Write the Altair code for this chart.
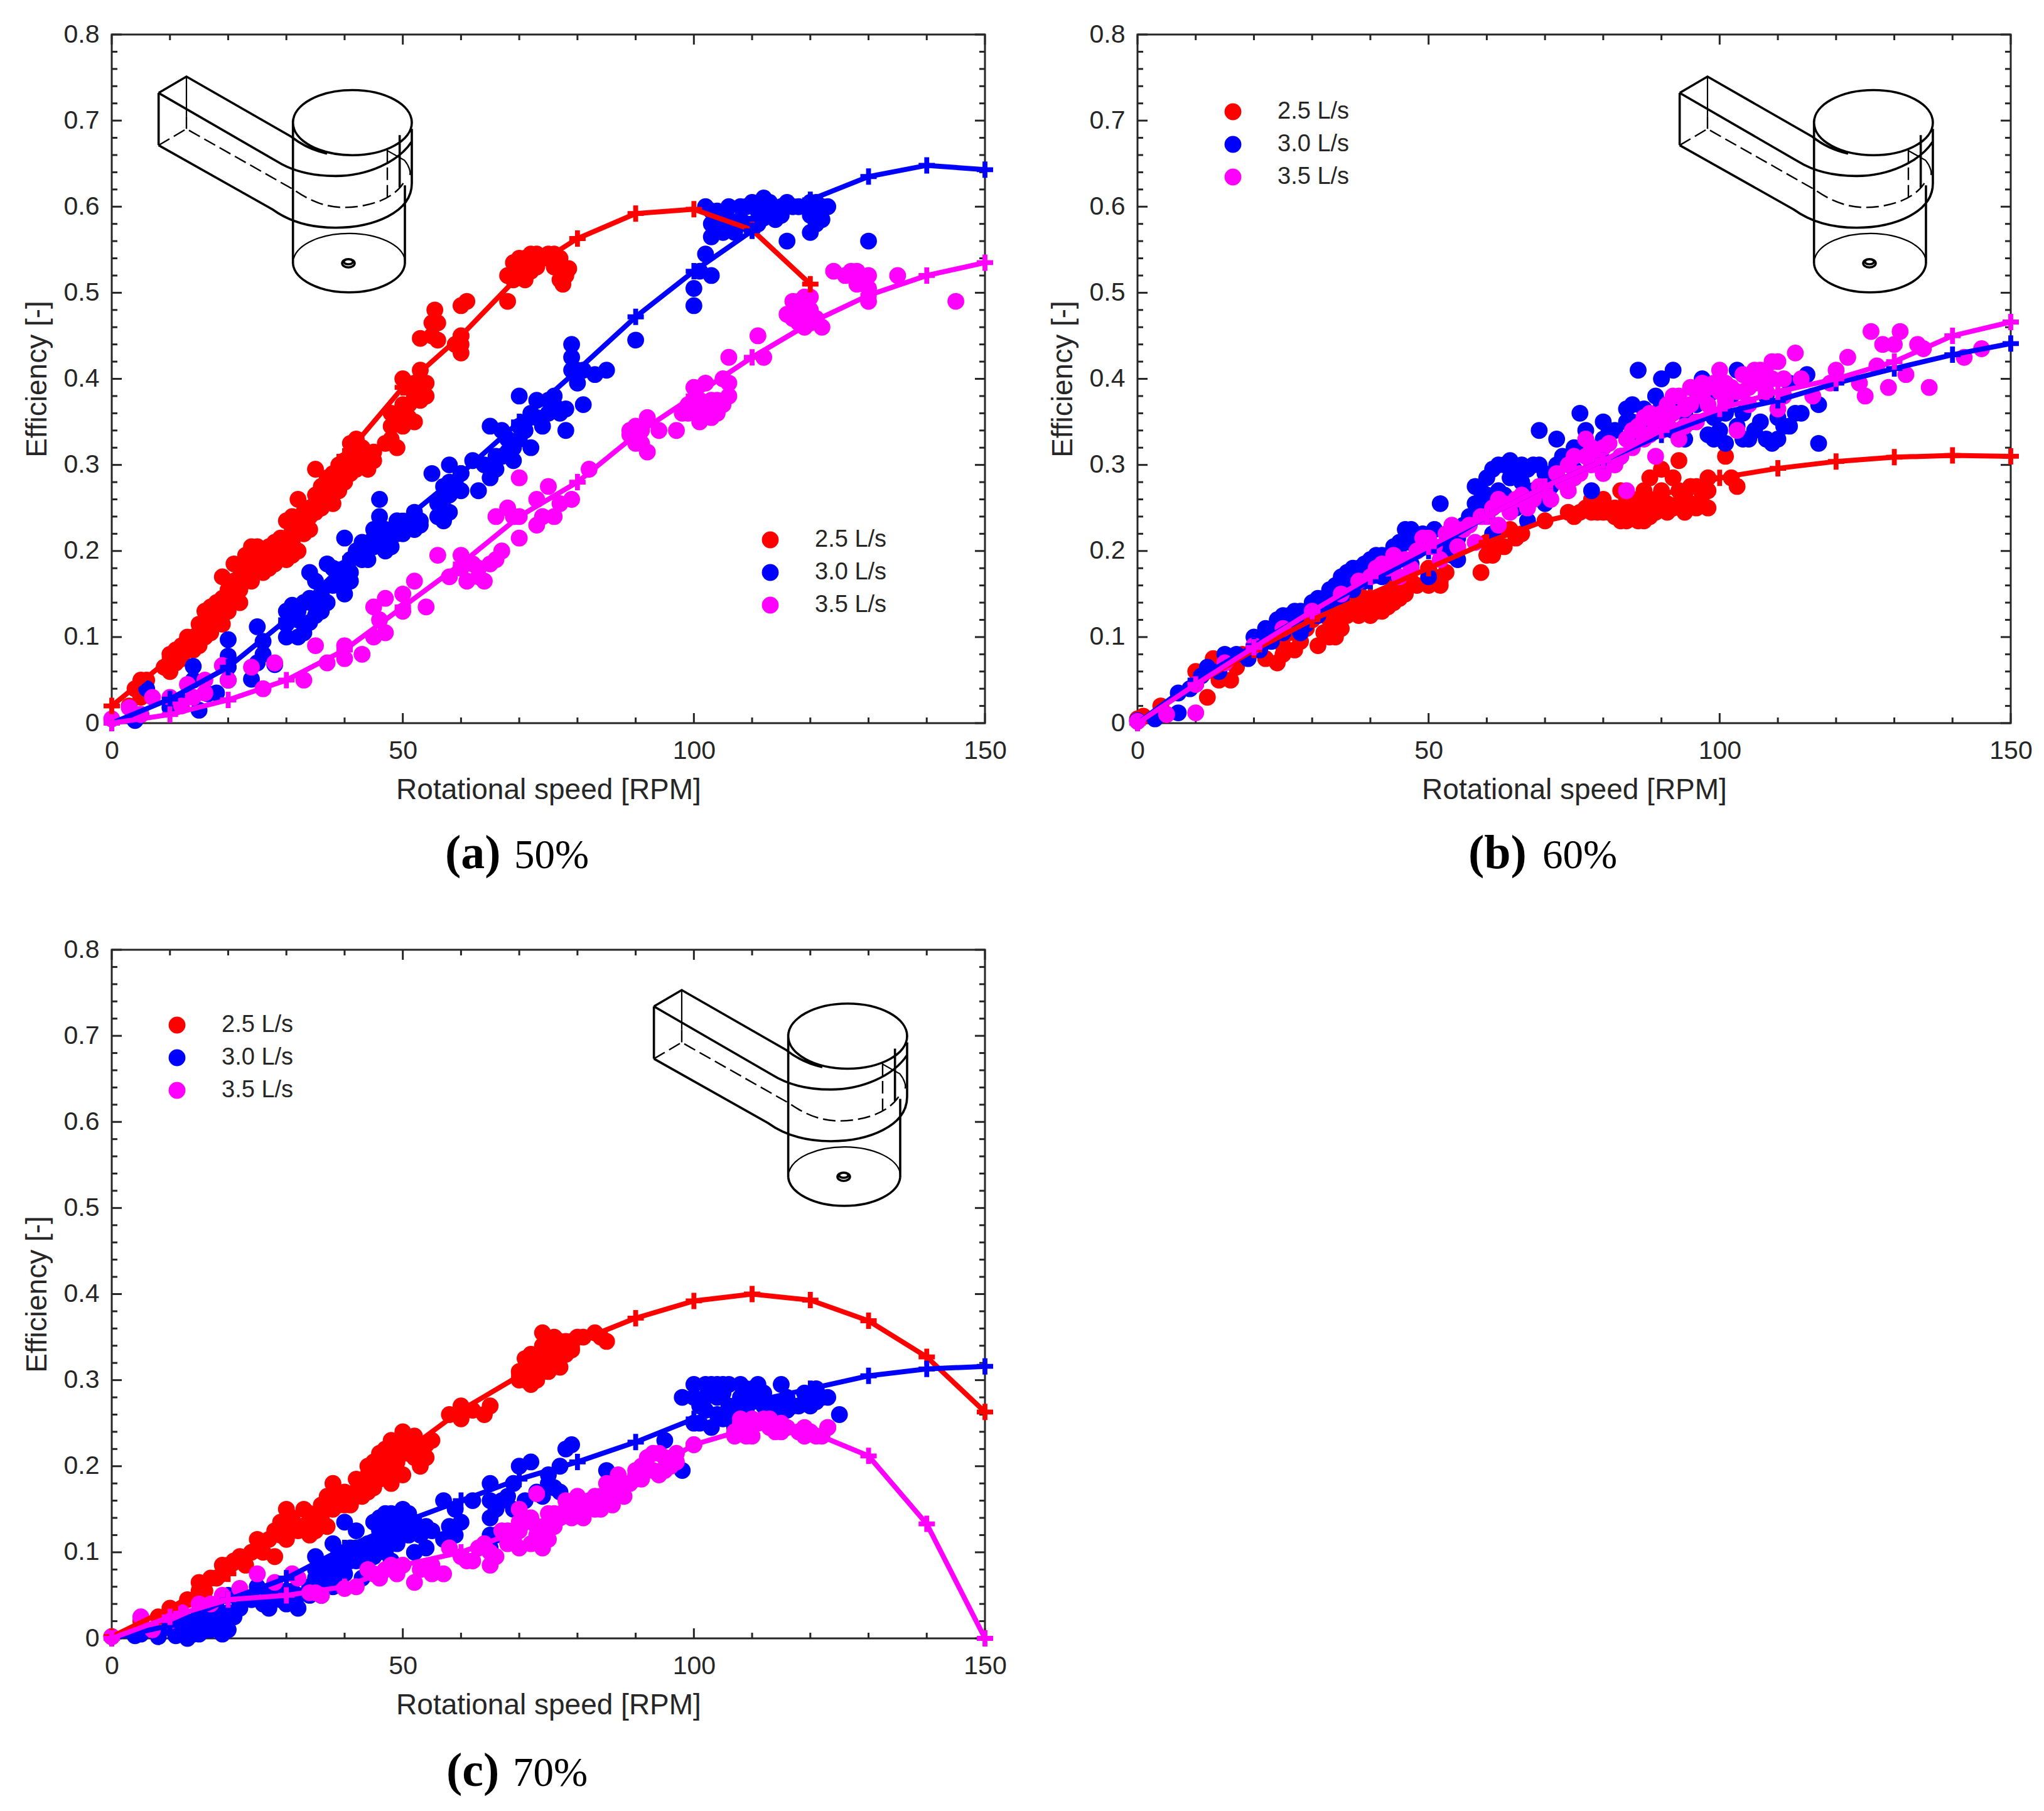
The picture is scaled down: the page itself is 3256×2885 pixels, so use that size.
import altair as alt
import pandas as pd

FLOWS = ["2.5 L/s", "3.0 L/s", "3.5 L/s"]
COLORS = ["#ff0000", "#0000ff", "#ff00ff"]
INK = "#262626"
W, H = 1391, 1097

line_x = [0, 10, 20, 30, 40, 50, 60, 70, 80, 90, 100, 110, 120, 130, 140, 150]

a_line_red = [.02, .075, .155, .22, .31, .39, .45, .52, .563, .592, .597, .573, .51]
a_line_blue = [0, .028, .065, .12, .185, .235, .29, .35, .41, .472, .525, .572, .608, .635, .648, .643]
a_line_mag = [0, .01, .027, .05, .085, .135, .185, .24, .28, .335, .38, .425, .465, .497, .52, .535]
b_line_red = [0, .045, .085, .12, .15, .18, .21, .235, .25, .265, .285, .296, .304, .309, .311, .31]
b_line_blue = [0, .05, .09, .13, .165, .2, .24, .275, .305, .335, .36, .375, .395, .412, .428, .441]
b_line_mag = [0, .045, .088, .13, .17, .205, .24, .275, .305, .34, .365, .385, .4, .42, .45, .466]
c_line_red = [.002, .035, .075, .125, .17, .215, .265, .305, .345, .372, .392, .4, .393, .369, .327, .263]
c_line_blue = [0, .015, .045, .07, .105, .135, .16, .185, .205, .228, .255, .275, .29, .305, .313, .316]
c_line_mag = [0, .025, .045, .05, .06, .085, .1, .125, .155, .185, .225, .245, .24, .212, .133, 0]

a_red = [(5,.05),(5,.03),(3,.02),(4,.04),(6,.05),(9,.065),(10,.08),(11,.07),(10,.06),(12,.09),(11,.085),(13,.09),
(14,.10),(15,.09),(15,.115),(16,.10),(16,.13),(17,.105),(17,.135),(18,.12),(18,.14),(19,.125),(19,.145),(19,.17),(20,.13),(20,.155),
(21,.15),(21,.185),(22,.14),(22,.17),(23,.165),(24,.185),(23,.195),(24,.205),(25,.18),(25,.205),(26,.175),(27,.19),(27,.205),(28,.185),
(28,.21),(29,.20),(30,.19),(30,.215),(30,.235),(31,.195),(31,.24),(32,.20),(32,.26),(33,.22),(33,.245),(34,.225),(34,.25),(35,.245),(35,.265),
(35,.295),(36,.25),(36,.275),(37,.26),(37,.285),(38,.255),(38,.29),(39,.27),(39,.30),(40,.28),(40,.305),(41,.29),(41,.325),(42,.295),
(42,.33),(43,.30),(43,.32),(44,.295),(45,.315),(45,.305),(48,.33),(48,.36),(49,.32),(50,.345),(50,.40),(50,.37),(51,.355),(51,.39),
(52,.35),(52,.38),(53,.375),(53,.41),(54,.38),(54,.395),(53,.447),(55,.45),(55,.465),(56,.445),(56,.465),(55.5,.48),(59,.44),(60,.44),
(60,.43),(60,.45),(60,.485),(61,.49),(68,.49),(68,.52),(69,.515),(69,.535),(70,.525),(70,.54),(71,.515),(71,.54),(72,.525),(72,.545),
(73,.53),(73,.545),(74,.54),(75,.545),(76,.53),(76,.545),(77,.515),(77,.54),(78,.52),(77.5,.51),(78.5,.528),
(12,.075),(13,.10),(14,.085),(15,.105),(16,.115),(17,.125),(18,.13),(19,.115),(20,.14),(21,.165),(22,.155),(23,.18),(24,.165),(25,.19),
(26,.195),(27,.18),(28,.20),(29,.215),(30,.205),(31,.21),(32,.225),(33,.235),(34,.24),(35,.255),(36,.26),(37,.27),(38,.275),(39,.285),
(40,.295),(41,.31),(42,.315),(43,.31),(44,.31),(47,.325),(48,.345),(49,.36),(51,.37),(52,.395),(53,.39)]
a_blue = [(4,.003),(6,.04),(5,.01),(10,.018),(12,.025),(14,.066),(14,.05),(15,.015),(16.5,.034),(18,.035),(20,.078),(20,.097),(20,.065),
(20,.05),(24,.051),(25,.07),(25,.112),(26,.095),(26,.08),(28,.068),(30,.10),(30,.115),(30,.13),(31,.137),(32,.12),(32,.10),(33,.105),(33,.14),
(34,.117),(34,.145),(35,.125),(35,.165),(34,.175),(36,.15),(37,.14),(37,.185),(38,.16),(39,.165),(40,.15),(40,.18),(40,.215),(41,.165),
(41,.19),(42,.20),(43,.21),(44,.19),(45,.205),(45,.225),(46,.215),(46,.24),(46,.26),(47,.20),(47,.225),(48,.205),(49,.235),(50,.22),
(52,.225),(52,.245),(53,.235),(55,.29),(56,.255),(57,.235),(57,.275),(58,.245),(58,.265),(58,.30),(59,.28),(60,.27),(60,.29),(62,.305),
(63,.27),(65,.285),(65,.345),(66,.295),(67,.31),(67,.34),(68,.33),(69,.305),(69,.32),(70,.33),(70,.38),(71,.35),(72,.32),(73,.355),
(73,.375),(75,.36),(76,.38),(77,.36),(78,.34),(79,.44),(79,.425),(79,.41),(80,.395),(81,.41),(81,.37),(83,.405),(85,.41),(90,.445),
(100,.485),(100,.505),(101,.525),(102,.545),(103,.52),(103,.565),(104,.58),(105,.57),(106,.60),(107,.57),(108,.585),(109,.60),(110,.58),
(110,.605),(111,.595),(112,.61),(113,.59),(114,.585),(115,.60),(116,.56),(117,.60),(120,.57),(120,.59),(121,.605),(122,.585),(123,.60),
(130,.56),(102,.60),(103,.595),(104,.595),
(32,.13),(33,.115),(35,.135),(36,.13),(36,.14),(38,.18),(41,.175),(43,.19),(44,.205),(45,.215),(47,.21),(49,.22),(50,.23),(51,.235),(53,.23),
(56,.24),(57,.26),(58,.28),(64,.30),(66,.31),(68,.315),(70,.345),(71,.34),(72,.36),(74,.345),(75,.375),(76,.37),(78,.365),
(103,.58),(105,.585),(106,.585),(108,.60),(109,.58),(111,.58),(112,.595),(113,.605),(115,.59),(116,.605),(118,.60),(120,.605),(121,.58),(122,.60)]
a_mag = [(0,.005),(3,.018),(5,.01),(7,.03),(10,.03),(13,.045),(12,.02),(14,.03),(16,.05),(16,.035),(19,.067),(20,.05),(24,.065),(26,.04),
(28,.07),(33,.05),(35,.09),(37,.07),(40,.075),(40,.09),(43,.08),(45,.135),(45,.10),(46,.12),(47,.105),(47,.145),(50,.13),(50,.15),(52,.165),
(54,.135),(56,.195),(58,.17),(60,.18),(60,.195),(61,.165),(62,.185),(63,.17),(64,.165),(65,.185),(67,.20),(66,.24),(68,.25),(69,.24),
(70,.215),(70,.24),(70,.285),(73,.26),(73,.23),(74,.24),(75,.275),(76,.24),(77,.255),(79,.26),(82,.295),(89,.335),(90,.345),(91,.325),
(92,.355),(92,.315),(94,.34),(97,.34),(99,.36),(100,.39),(100,.365),(101,.35),(102,.395),(103,.375),(104,.36),(105,.40),(106,.425),
(106,.38),(111,.45),(112,.425),(117,.49),(117,.47),(118,.475),(119,.495),(119,.47),(120,.495),(120,.48),(121,.47),(122,.46),(124,.525),
(126,.52),(127,.525),(128,.51),(130,.49),(130,.52),(130,.505),(135,.52),(145,.49),
(98,.36),(99,.37),(101,.375),(102,.365),(103,.355),(104,.375),(105,.37),(106,.395),(118,.49),(118,.465),(119,.46),(120,.465),(116,.475),
(128,.525),(129,.515),(89,.34),(90,.325),(91,.34),(63,.18),(66,.19)]

b_red = [(0,.005),(1,.008),(4,.02),(5,.01),(10,.06),(12,.03),(13,.075),(14,.05),(16,.05),(17,.065),(18,.08),(20,.085),(22,.075),(24,.07),
(25,.08),(25,.09),(26,.105),(28,.095),(30,.12),(31,.09),(33,.10),(34,.115),(35,.11),(36,.14),(37,.13),(38,.15),(39,.13),(40,.125),(41,.14),
(42,.13),(43,.135),(44,.16),(44,.14),(45,.145),(46,.165),(50,.16),(50,.18),(52,.165),(53,.175),(59,.175),(60,.21),(61,.195),(62,.225),
(63,.205),(63,.265),(65,.215),(70,.235),(75,.24),(77,.25),(78,.26),(79,.245),(80,.26),(81,.245),(82,.25),(83,.235),(83,.27),(84,.255),
(85,.24),(86,.235),(86,.26),(87,.27),(88,.24),(88,.285),(89,.245),(90,.27),(90,.295),(91,.245),(92,.285),(93,.27),(93,.305),(94,.245),
(95,.275),(96,.25),(97,.265),(98,.285),(98,.25),(101,.31),(102,.285),(103,.275),(84,.235),(87,.235),
(27,.085),(28,.105),(29,.11),(32,.105),(33,.12),(34,.10),(35,.125),(36,.125),(37,.14),(38,.125),(39,.145),(40,.14),(41,.13),(42,.145),(43,.15),
(44,.15),(45,.16),(46,.15),(47,.165),(48,.16),(51,.17),(52,.16),(60,.195),(62,.205),(64,.225),(66,.22),
(74,.245),(76,.245),(78,.245),(80,.245),(82,.24),(84,.245),(85,.255),(86,.245),(87,.25),(88,.26),(89,.26),(90,.25),(91,.255),(92,.25),(93,.255),
(94,.265),(95,.255),(96,.275),(98,.27),(84,.26)]
b_blue = [(0,.003),(3,.005),(7,.012),(7,.035),(9,.04),(11,.055),(12,.065),(14,.06),(15,.08),(17,.08),(19,.075),(20,.10),(21,.085),(22,.11),
(23,.095),(24,.12),(25,.105),(26,.125),(27,.13),(28,.105),(29,.115),(30,.14),(31,.125),(32,.145),(33,.14),(34,.16),(35,.145),(36,.175),
(37,.155),(38,.18),(39,.165),(40,.19),(41,.195),(42,.17),(44,.175),(45,.21),(46,.225),(47,.185),(47,.21),(48,.215),(50,.17),(51,.225),
(52,.255),(53,.205),(54,.195),(55,.19),(56,.23),(58,.275),(59,.25),(60,.285),(61,.22),(62,.30),(63,.265),(64,.305),(65,.25),(66,.30),
(67,.235),(68,.30),(69,.34),(70,.255),(72,.33),(74,.28),(75,.295),(76,.36),(77,.34),(78,.27),(80,.305),(80,.33),(80,.35),(83,.31),(84,.35),
(85,.37),(86,.41),(87,.365),(88,.34),(90,.40),(92,.41),(93,.37),(94,.33),(95,.35),(97,.40),(98,.335),(99,.355),(100,.34),(101,.325),
(102,.38),(103,.41),(104,.36),(105,.33),(107,.35),(108,.38),(109,.325),(110,.355),(110,.33),(111,.345),(113,.36),(115,.405),(117,.37),
(117,.325),(112,.395),
(22,.095),(24,.11),(25,.125),(27,.115),(28,.13),(29,.13),(30,.125),(31,.145),(32,.135),(33,.155),(34,.15),(35,.17),(36,.16),(37,.18),(38,.17),
(39,.185),(40,.175),(41,.18),(42,.195),(43,.18),(44,.205),(45,.195),(46,.21),(47,.225),(48,.20),(49,.22),(50,.21),(55,.215),(57,.24),(58,.255),
(59,.27),(60,.265),(61,.295),(62,.27),(63,.30),(64,.285),(65,.29),(66,.28),(67,.295),(68,.27),(69,.30),(70,.29),(71,.275),(72,.30),(73,.31),
(75,.32),(77,.32),(79,.32),(81,.34),(82,.34),(84,.365),(85,.35),(86,.33),(87,.35),(89,.38),(90,.37),(91,.36),(92,.34),(94,.36),(96,.37),(98,.38),
(99,.33),(101,.36),(103,.345),(104,.33),(106,.34),(108,.33),(112,.345),(114,.36)]
b_mag = [(0,.002),(5,.01),(10,.012),(10,.045),(15,.07),(20,.09),(25,.11),(30,.13),(35,.15),(38,.165),(40,.17),(42,.185),(45,.17),(47,.18),
(50,.215),(52,.19),(54,.23),(55,.205),(57,.23),(58,.21),(60,.24),(62,.23),(62,.26),(64,.245),(66,.265),(67,.25),(69,.275),(71,.26),(72,.29),
(74,.27),(75,.31),(76,.29),(77,.33),(78,.30),(79,.31),(81,.325),(82,.30),(84,.27),(85,.32),(85,.34),(87,.355),(88,.335),(89,.31),(90,.36),
(90,.34),(92,.38),(93,.33),(94,.365),(95,.39),(96,.35),(97,.38),(98,.39),(100,.41),(101,.375),(102,.39),(103,.34),(104,.405),(105,.37),
(106,.395),(107,.41),(108,.385),(109,.42),(110,.365),(110,.42),(111,.38),(113,.43),(114,.40),(116,.38),(119,.395),(120,.41),(122,.425),
(124,.395),(125,.38),(126,.455),(127,.415),(128,.44),(129,.39),(130,.44),(131,.455),(132,.405),(134,.44),(135,.435),(136,.39),(142,.425),
(145,.435),
(41,.18),(43,.18),(44,.195),(46,.19),(48,.20),(49,.215),(51,.205),(53,.22),(56,.225),(59,.24),(61,.25),(63,.255),(65,.26),(68,.26),(70,.27),
(73,.28),(74,.30),(75,.285),(77,.31),(78,.32),(80,.29),(80,.32),(83,.31),(84,.33),(86,.345),(87,.33),(88,.36),(89,.345),(91,.35),(91,.37),
(92,.36),(93,.38),(94,.345),(95,.37),(96,.385),(97,.395),(98,.37),(99,.395),(100,.385),(101,.395),(103,.385),(104,.385),(105,.39),(106,.41),
(107,.395),(108,.405),(109,.40),(111,.40)]

c_red = [(0,.002),(5,.02),(8,.025),(10,.035),(13,.045),(15,.055),(15,.065),(17,.07),(19,.075),(19,.085),(21,.09),(22,.095),(23,.085),(24,.10),
(25,.115),(26,.10),(27,.115),(28,.095),(28,.125),(29,.135),(30,.115),(30,.15),(31,.14),(32,.125),(33,.15),(34,.12),(35,.14),(36,.155),(37,.13),
(37,.165),(38,.18),(39,.165),(40,.17),(41,.155),(42,.185),(43,.165),(44,.19),(44,.17),(45,.205),(46,.185),(46,.215),(47,.195),(48,.18),
(49,.225),(49,.205),(50,.19),(50,.24),(51,.215),(52,.235),(53,.20),(54,.225),(55,.23),(58,.26),(60,.27),(60,.255),(62,.265),(64,.26),
(65,.27),(70,.30),(70,.31),(71,.325),(72,.295),(72,.33),(73,.315),(74,.34),(74,.31),(74,.355),(75,.325),(76,.34),(77,.315),(77,.345),
(78,.33),(79,.345),(80,.35),(83,.355),(85,.345),
(29,.12),(31,.135),(33,.13),(34,.145),(35,.125),(36,.14),(38,.15),(39,.155),(40,.155),(41,.165),(42,.165),(43,.18),(44,.20),(45,.175),(46,.195),
(47,.205),(47,.22),(48,.20),(48,.215),(48,.23),(49,.195),(51,.23),(52,.21),(53,.22),(54,.21),(71,.30),(72,.31),(73,.30),(73,.33),(75,.31),(75,.34),
(76,.32),(76,.35),(78,.345),(79,.335),(81,.35),(84,.35),(20,.085),(18,.07),(16,.055)]
c_blue = [(4,.003),(5,.005),(8,.002),(10,.012),(11,.003),(12,.01),(13,0),(14,.015),(15,.005),(15,.03),(16,.02),(17,.01),(18,.035),(19,.02),
(20,.01),(20,.05),(22,.035),(24,.045),(25,.06),(27,.035),(27,.05),(29,.045),(30,.055),(32,.05),(32,.035),(34,.06),(35,.07),(35,.095),(36,.05),
(37,.085),(38,.06),(38,.11),(39,.09),(40,.075),(40,.135),(41,.105),(42,.09),(42,.125),(43,.07),(44,.11),(45,.095),(45,.135),(46,.11),
(47,.125),(48,.09),(48,.145),(49,.11),(49,.13),(50,.15),(51,.12),(52,.10),(52,.135),(54,.13),(57,.115),(57,.16),(59,.12),(59,.15),(62,.16),
(65,.105),(65,.14),(65,.18),(66,.12),(67,.16),(69,.18),(70,.20),(71,.16),(72,.205),(74,.165),(75,.19),(77,.17),(77,.20),(78,.22),(79,.225),
(85,.195),(95,.23),(98,.195),(100,.28),(101,.25),(102,.295),(102,.265),(103,.245),(104,.28),(105,.295),(105,.255),(106,.27),(107,.245),
(108,.295),(109,.265),(110,.29),(111,.295),(112,.27),(113,.255),(115,.275),(115,.295),(116,.28),(120,.27),(121,.29),(122,.28),(125,.26),
(11,.01),(13,.012),(14,.005),(16,.01),(18,.02),(19,.005),(21,.025),(20,.03),(22,.04),(17,.025),(26,.04),(28,.05),(30,.04),(31,.055),(34,.05),
(35,.08),(36,.06),(36,.085),(37,.07),(38,.085),(39,.07),(39,.10),(40,.09),(41,.09),(42,.105),(43,.095),(44,.09),(46,.125),(46,.14),(47,.10),
(47,.145),(48,.115),(48,.13),(50,.12),(50,.135),(51,.145),(53,.12),(54,.105),(55,.125),(58,.13),(60,.135),(65,.12),(65,.16),(66,.15),(68,.165),
(69,.15),(73,.17),(75,.18),(76,.175),
(98,.28),(100,.295),(100,.25),(101,.27),(102,.28),(103,.295),(104,.26),(104,.295),(105,.285),(106,.295),(106,.255),(107,.27),(108,.28),(109,.29),
(110,.275),(111,.28),(112,.285),(113,.27),(114,.265),(116,.265),(117,.27),(118,.27),(119,.285),(120,.28),(121,.275),(123,.28)]
c_mag = [(0,.002),(5,.025),(7,.01),(10,.02),(12,.03),(15,.04),(17,.04),(19,.05),(22,.058),(25,.075),(28,.065),(31,.075),(34,.053),(35,.053),
(40,.058),(45,.075),(47,.08),(49,.075),(50,.085),(52,.065),(55,.085),(57,.075),(58,.105),(61,.09),(64,.11),(65,.085),(65,.10),(68,.125),
(70,.105),(70,.125),(70,.15),(72,.11),(73,.13),(73,.168),(74,.105),(75,.145),(76,.13),(78,.15),(80,.15),(80,.165),(81,.14),(83,.165),(84,.15),
(85,.18),(86,.155),(87,.19),(88,.165),(90,.19),(91,.185),(92,.195),(93,.215),(94,.19),(95,.21),(97,.205),(97,.215),(100,.225),(107,.24),
(108,.25),(109,.235),(110,.25),(113,.255),(115,.24),(120,.24),(121,.235),(123,.245),
(107,.235),(108,.255),(109,.24),(110,.235),(110,.255),(111,.25),(112,.255),(113,.245),(114,.24),(115,.25),(116,.245),(118,.24),(119,.235),(119,.245),
(122,.235),(123,.245),(67,.125),(68,.11),(69,.115),(70,.135),(71,.135),(72,.14),(73,.12),(74,.125),(75,.13),(75,.115),(76,.145),(77,.14),(78,.16),
(79,.14),(80,.155),(81,.15),(82,.16),(83,.15),(84,.165),(85,.165),(86,.17),(87,.175),(88,.18),(89,.18),(90,.195),(91,.2),(92,.21),(93,.195),
(95,.195),(96,.2),(94,.215),(60,.095),(62,.09),(63,.105),(66,.095),(55,.075),(53,.08),(48,.085),(46,.07),(44,.08),(42,.06),(36,.05),(32,.07)]

x_major = [0, 50, 100, 150]
x_minor = [10, 20, 30, 40, 60, 70, 80, 90, 110, 120, 130, 140]
y_major = [0, .1, .2, .3, .4, .5, .6, .7, .8]
y_minor = [.02, .04, .06, .08, .12, .14, .16, .18, .22, .24, .26, .28, .32, .34, .36, .38, .42, .44, .46, .48,
           .52, .54, .56, .58, .62, .64, .66, .68, .72, .74, .76, .78]

SKETCH_SOLID = ("M155,168 L155,418 M155,168 L288,90 L790,378 C830,410 880,440 960,458 "
    "M155,168 L720,495 C800,545 900,565 1000,565 C1150,565 1300,500 1365,400 "
    "M155,418 L700,725 C790,790 900,812 1000,812 C1180,812 1365,740 1365,600 L1365,340 "
    "M797,310 A283,155 0 1 1 1365,310 A283,155 0 1 1 797,310 "
    "M797,300 L797,985 M1332,610 L1332,985 M797,985 A268,145 0 0 0 1332,985 M1307,370 L1307,620 "
    "M1032,982 A30,20 0 1 1 1092,982 A30,20 0 1 1 1032,982 M1040,975 A22,12 0 1 1 1084,975 A22,12 0 1 1 1040,975")
SKETCH_THIN = ("M288,90 L288,280 M800,960 A268,140 0 0 1 1332,965 "
    "M1250,445 L1330,490 C1355,520 1360,550 1355,560")
SKETCH_DASH = ("M288,280 L288,340 M155,418 L288,340 L800,630 C870,680 950,715 1040,715 "
    "C1150,715 1280,680 1330,590 M1248,440 L1248,670")
PLUS = "M-0.3,-1H0.3V-0.3H1V0.3H0.3V1H-0.3V0.3H-1V-0.3H-0.3Z"

xs = alt.Scale(domain=[0, 150], nice=False, zero=False)
ys = alt.Scale(domain=[0, 0.8], nice=False, zero=False)
cs = alt.Scale(domain=FLOWS, range=COLORS)
x_axis = alt.Axis(values=x_major, grid=False, ticks=False, domain=False, labelPadding=24, titlePadding=20,
                  labelFontSize=41, titleFontSize=46, labelColor=INK, titleColor=INK, labelFont="Liberation Sans",
                  titleFont="Liberation Sans", titleFontWeight="normal", format="d", labelFlush=False, labelOverlap=False)
y_axis = alt.Axis(values=y_major, grid=False, ticks=False, domain=False, labelPadding=20, titlePadding=18,
                  labelFontSize=41, titleFontSize=46, labelColor=INK, titleColor=INK, labelFont="Liberation Sans",
                  titleFont="Liberation Sans", titleFontWeight="normal", format=".1~f", labelFlush=False, labelOverlap=False)
NX = alt.X("x:Q", scale=xs, axis=x_axis, title="Rotational speed [RPM]")
NY = alt.Y("y:Q", scale=ys, axis=y_axis, title="Efficiency [-]")


def ticks(pos, minor, major):
    layers = []
    for vals, ln in ((minor, 9), (major, 16)):
        if pos == "x":
            df = pd.DataFrame({"x": vals})
            for y0, y1 in ((H, H - ln), (0, ln)):
                layers.append(alt.Chart(df).mark_rule(color=INK, strokeWidth=3).encode(x=NX, y=alt.value(y0), y2=alt.value(y1)))
        else:
            df = pd.DataFrame({"y": vals})
            for x0, x1 in ((0, ln), (W, W - ln)):
                layers.append(alt.Chart(df).mark_rule(color=INK, strokeWidth=3).encode(y=NY, x=alt.value(x0), x2=alt.value(x1)))
    return layers


def panel(tag, pct, scat, lines, ax, ay, lx, ly, capa, capb, capy):
    layers = ticks("x", x_minor, x_major) + ticks("y", y_minor, y_major)
    anchor = pd.DataFrame({"x": [ax], "y": [ay]})
    for path, sw, dash in ((SKETCH_SOLID, 3.6, None), (SKETCH_THIN, 2.2, None), (SKETCH_DASH, 2.4, [20, 8])):
        kw = dict(shape=path, size=4 / 9, filled=False, opacity=1, stroke="black", strokeWidth=sw)
        if dash:
            kw["strokeDash"] = dash
        layers.append(alt.Chart(anchor).mark_point(**kw).encode(x=NX, y=NY))
    for i, (flow, pts) in enumerate(zip(FLOWS, scat)):
        df = pd.DataFrame(pts, columns=["x", "y"]).assign(flow=flow)
        legend = None
        if i == 0:
            legend = alt.Legend(orient="none", legendX=lx, legendY=ly, title=None, symbolType="circle", symbolSize=720,
                                symbolStrokeWidth=0, labelFontSize=38, labelFont="Liberation Sans", labelColor=INK,
                                labelOffset=52, rowPadding=14, padding=0)
        layers.append(alt.Chart(df).mark_circle(size=720, opacity=1).encode(
            x=NX, y=NY, color=alt.Color("flow:N", scale=cs, legend=legend)))
    for flow, ys_line in zip(FLOWS, lines):
        df = pd.DataFrame({"x": line_x[:len(ys_line)], "y": ys_line, "flow": flow})
        layers.append(alt.Chart(df).mark_line(strokeWidth=8).encode(
            x=NX, y=NY, color=alt.Color("flow:N", scale=cs, legend=None)))
        layers.append(alt.Chart(df).mark_point(shape=PLUS, size=676, filled=True, opacity=1).encode(
            x=NX, y=NY, color=alt.Color("flow:N", scale=cs, legend=None)))
    layers.append(alt.Chart(pd.DataFrame({"t": [tag]})).mark_text(
        font="Liberation Serif", fontWeight="bold", fontSize=76, align="left", baseline="alphabetic", color="black").encode(
        text="t:N", x=alt.value(capa), y=alt.value(capy)))
    layers.append(alt.Chart(pd.DataFrame({"t": [pct]})).mark_text(
        font="Liberation Serif", fontSize=65, align="left", baseline="alphabetic", color="black").encode(
        text="t:N", x=alt.value(capb), y=alt.value(capy)))
    return alt.layer(*layers).properties(width=W, height=H)


pa = panel("(a)", "50%", [a_red, a_blue, a_mag], [a_line_red, a_line_blue, a_line_mag], 2.48, .773, 1030, 786, 531, 641, 1328)
pb = panel("(b)", "60%", [b_red, b_blue, b_mag], [b_line_red, b_line_blue, b_line_mag], 87.56, .773, 133, 104, 527, 645, 1328)
pc = panel("(c)", "70%", [c_red, c_blue, c_mag], [c_line_red, c_line_blue, c_line_mag], 87.56, .775, 85, 101, 533, 639, 1332)

chart = alt.concat(pa, pb, pc, columns=2, spacing={"row": 361, "column": 243}, bounds="flush").resolve_scale(
    color="independent"
).resolve_legend(color="independent").properties(
    padding={"left": 26, "top": 24, "right": 0, "bottom": 0}
).configure_view(stroke=INK, strokeWidth=3)
chart.save("out.html", embed_options={"renderer": "svg", "actions": False})
